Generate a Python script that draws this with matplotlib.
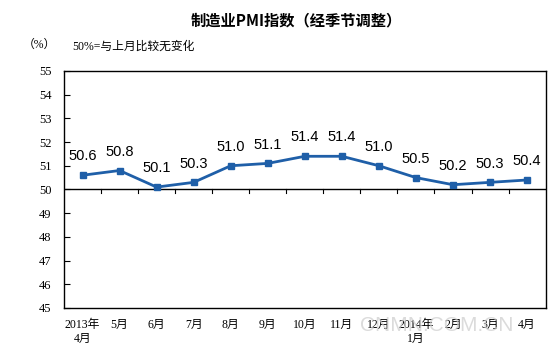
import numpy as np
import matplotlib
matplotlib.use('Agg')
import matplotlib.pyplot as plt

plt.rcParams['font.family'] = ['Liberation Serif', 'Noto Sans CJK SC']

months = ['2013年\n4月', '5月', '6月', '7月', '8月', '9月', '10月', '11月', '12月',
          '2014年\n1月', '2月', '3月', '4月']
pmi = [50.6, 50.8, 50.1, 50.3, 51.0, 51.1, 51.4, 51.4, 51.0, 50.5, 50.2, 50.3, 50.4]

fig = plt.figure(figsize=(5.53, 3.64), dpi=100)
ax = fig.add_axes([0.1157, 0.154, 0.871, 0.651])

x = np.arange(len(pmi))
ax.plot(x, pmi, color='#1f5fa8', lw=2, marker='s', ms=5, zorder=3)
for i, v in enumerate(pmi):
    ax.text(x[i], v + 0.5, '%.1f' % v, ha='center', va='bottom', fontsize=10.5,
            family=['Liberation Sans', 'DejaVu Sans'])

ax.set_xlim(-0.5, len(pmi) - 0.5)
ax.set_ylim(45, 55)
ax.set_yticks(range(45, 56))
ax.tick_params(axis='y', direction='in', length=4, labelsize=9, pad=18)
for lab in ax.get_yticklabels():
    lab.set_horizontalalignment('left')

# baseline at 50 with ticks between categories
ax.axhline(50, color='black', lw=1)
for b in np.arange(0.5, len(pmi) - 1, 1):
    ax.plot([b, b], [50, 49.85], color='black', lw=0.8)

ax.set_xticks(x)
ax.set_xticklabels(months, fontsize=8.5, va='top')
ax.tick_params(axis='x', length=0, pad=8)

for s in ax.spines.values():
    s.set_linewidth(1)

fig.text(0.535, 0.945, '制造业PMI指数（经季节调整）', ha='center', va='center',
         fontsize=11, fontweight='bold', family=['Noto Sans CJK SC'])
fig.text(0.072, 0.877, '（%）', ha='center', va='center', fontsize=8.5)
fig.text(0.13, 0.872, '50%=与上月比较无变化', ha='left', va='center', fontsize=8.5)
fig.text(0.79, 0.105, 'CNMN.COM.CN', ha='center', va='center', fontsize=15,
         color='#cccccc', alpha=0.7, family=['Liberation Sans'])

fig.savefig('out.png', dpi=100)
